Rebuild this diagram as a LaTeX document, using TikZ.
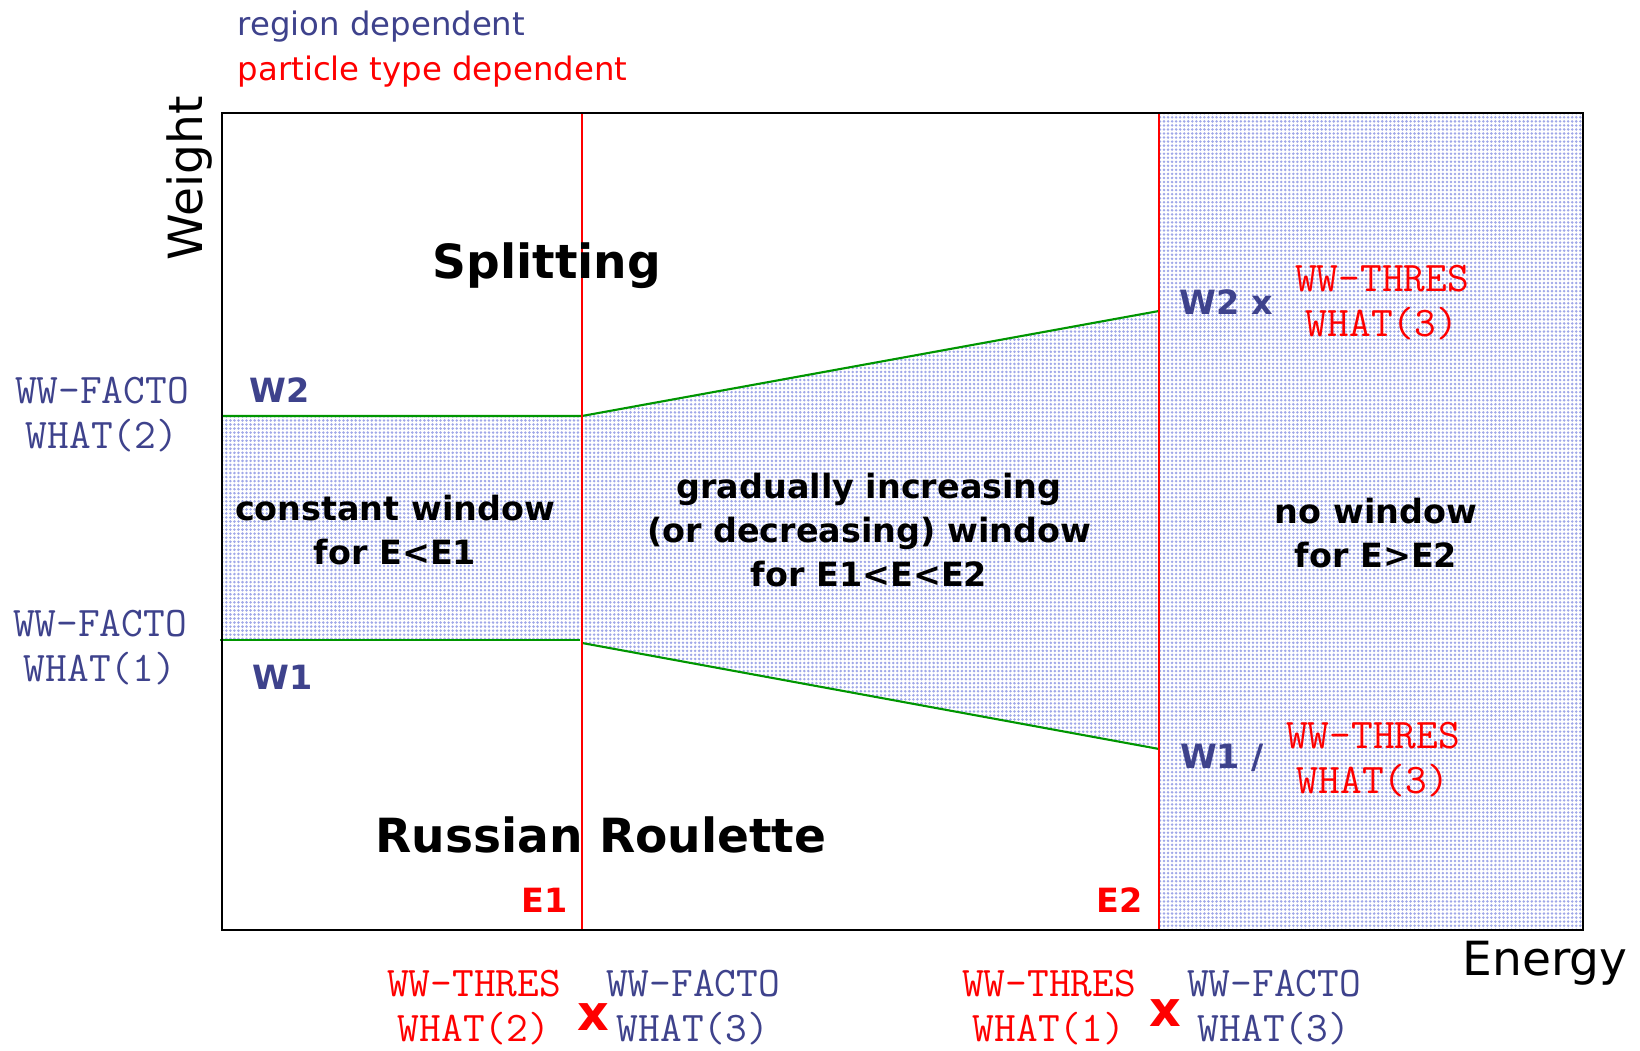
\documentclass[tikz,border=0pt]{standalone}
\usepackage{fontspec}
\setmainfont{DejaVu Sans}
\usetikzlibrary{patterns.meta}

\definecolor{regblue}{RGB}{62,66,140}
\definecolor{winline}{RGB}{0,150,0}
\definecolor{dotblue}{RGB}{160,168,232}

\tikzset{
    boldtxt/.style={inner sep=0pt, align=center, font=\fontsize{9.5}{12.6}\selectfont\bfseries},
    bigtxt/.style={inner sep=0pt, align=center, font=\fontsize{13.4}{16}\selectfont\bfseries},
    wtxt/.style={boldtxt, text=regblue},
    etxt/.style={boldtxt, text=red},
    facto/.style={inner sep=0pt, align=center, text=regblue, font=\fontsize{12}{12.8}\selectfont\ttfamily},
    thres/.style={facto, text=red},
    window/.style={pattern={Dots[distance=1.15pt, radius=0.4pt]}, pattern color=dotblue},
}

\begin{document}
\begin{tikzpicture}[x=0.1mm, y=-0.1mm]
    \useasboundingbox (0,0) rectangle (1640,1051);

    % Shaded windows
    \fill[window] (222,416) rectangle (582,640);
    \fill[window] (582,416) -- (1159,311) -- (1159,749) -- (582,643) -- cycle;
    \fill[window] (1159,113) rectangle (1583,930);

    % Window limits
    \draw[winline, line width=0.6pt] (222,416) -- (582,416) -- (1159,311);
    \draw[winline, line width=0.6pt] (220,640) -- (580,640);
    \draw[winline, line width=0.6pt] (582,643) -- (1159,749);

    % Energy thresholds
    \draw[red, line width=0.75pt] (582,113) -- (582,930);
    \draw[red, line width=0.75pt] (1159,113) -- (1159,930);

    % Frame
    \draw[line width=0.75pt] (222,113) rectangle (1583,930);

    % Legend
    \node[anchor=west, inner sep=0pt, text=regblue, font=\fontsize{9.2}{11}\selectfont] (regdep) at (237,27) {region dependent};
    \node[anchor=west, inner sep=0pt, text=red, font=\fontsize{9.2}{11}\selectfont] (partdep) at (237,72) {particle type dependent};

    % Axes
    \node[rotate=90, inner sep=0pt, font=\fontsize{13.4}{15}\selectfont] (weight) at (190,178) {Weight};
    \node[inner sep=0pt, font=\fontsize{13.4}{15}\selectfont] (energy) at (1545,963) {Energy};

    % Regions
    \node[bigtxt] (split) at (547,266) {Splitting};
    \node[bigtxt] (roulette) at (601,835) {Russian Roulette};
    \node[boldtxt] (constwin) at (395,530) {constant window\\for E<E1};
    \node[boldtxt] (gradwin) at (869,530) {gradually increasing\\(or decreasing) window\\for E1<E<E2};
    \node[boldtxt] (nowin) at (1376,533) {no window\\for E>E2};

    % Window bounds
    \node[wtxt] (w2) at (280,390) {W2};
    \node[wtxt] (w1) at (283,677) {W1};
    \node[facto] (facto2) at (102,415) {WW-FACTO\\WHAT(2)};
    \node[facto] (facto1) at (100,648) {WW-FACTO\\WHAT(1)};
    \node[wtxt] (w2x) at (1226,302) {W2 x};
    \node[thres] (thresup) at (1382,303) {WW-THRES\\WHAT(3)};
    \node[wtxt] (w1div) at (1222,758) {W1 /};
    \node[thres] (thresdn) at (1373,760) {WW-THRES\\WHAT(3)};

    % Energy bounds
    \node[etxt] (e1) at (545,900) {E1};
    \node[etxt] (e2) at (1120,900) {E2};
    \node[thres] (thres2) at (474,1008) {WW-THRES\\WHAT(2)};
    \node[inner sep=0pt, text=red, font=\fontsize{14}{16}\selectfont\bfseries] (times1) at (593,1017) {x};
    \node[facto] (factoe1) at (693,1008) {WW-FACTO\\WHAT(3)};
    \node[thres] (thres1) at (1049,1008) {WW-THRES\\WHAT(1)};
    \node[inner sep=0pt, text=red, font=\fontsize{14}{16}\selectfont\bfseries] (times2) at (1165,1013) {x};
    \node[facto] (factoe2) at (1274,1008) {WW-FACTO\\WHAT(3)};
\end{tikzpicture}
\end{document}
